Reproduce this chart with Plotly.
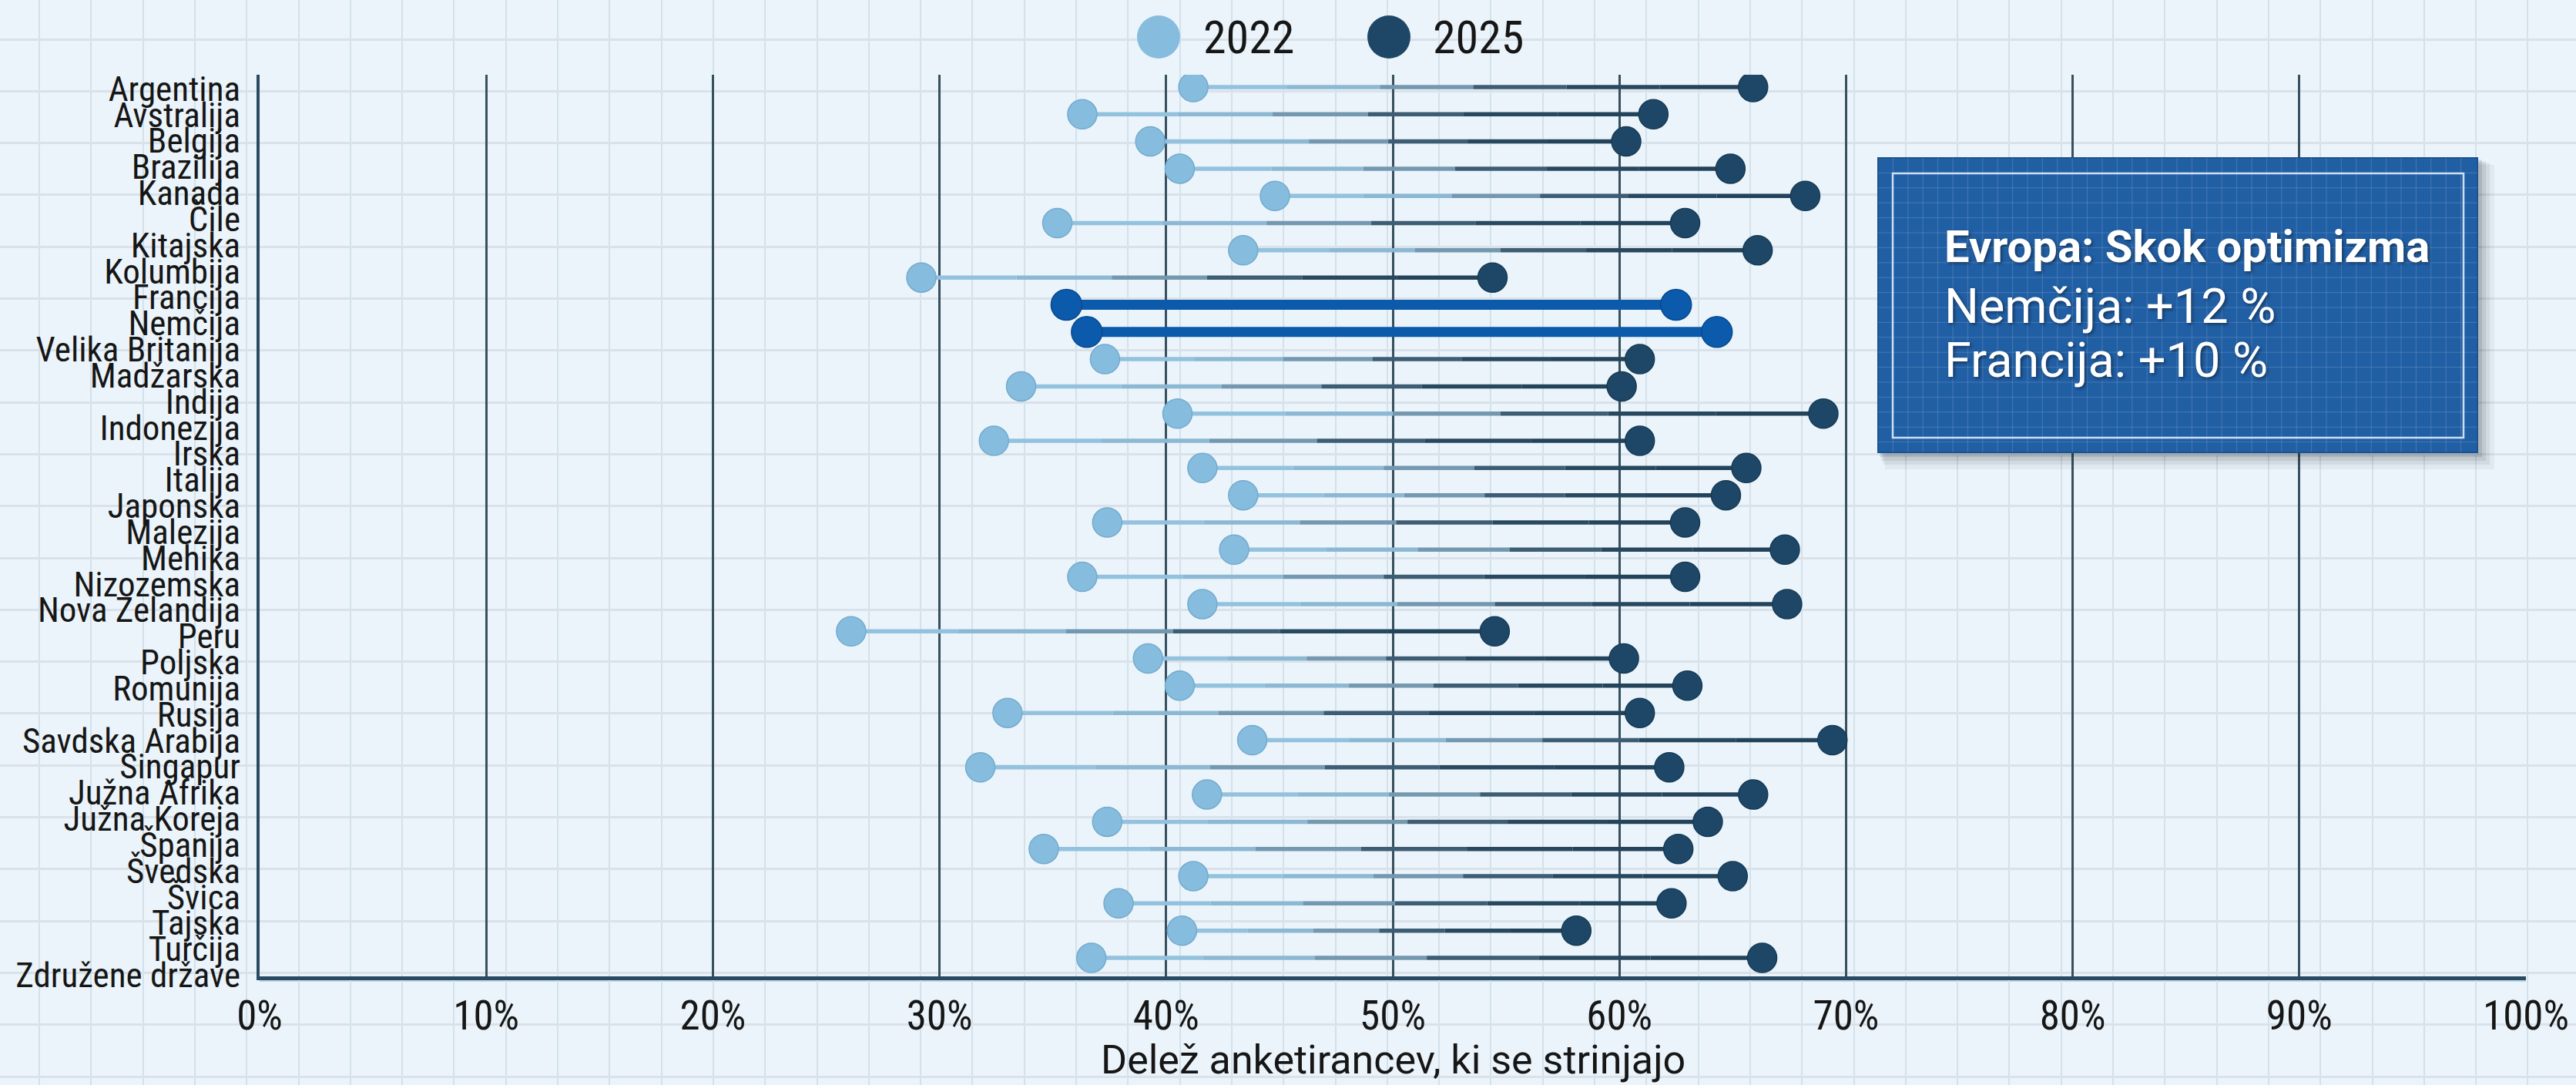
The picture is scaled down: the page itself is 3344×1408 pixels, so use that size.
import plotly.graph_objects as go

W, H = 3344, 1408

# ---------------- data ----------------
labels = ["Argentina", "Avstralija", "Belgija", "Brazilija", "Kanada", "Čile", "Kitajska",
          "Kolumbija", "Francija", "Nemčija", "Velika Britanija", "Madžarska", "Indija",
          "Indonezija", "Irska", "Italija", "Japonska", "Malezija", "Mehika", "Nizozemska",
          "Nova Zelandija", "Peru", "Poljska", "Romunija", "Rusija", "Savdska Arabija",
          "Singapur", "Južna Afrika", "Južna Koreja", "Španija", "Švedska", "Švica",
          "Tajska", "Turčija", "Združene države"]

countries = ["Argentina", "Avstralija", "Belgija", "Brazilija", "Kanada", "Čile", "Kitajska",
             "Kolumbija", "Francija", "Nemčija", "Velika Britanija", "Madžarska", "Indija",
             "Indonezija", "Italija", "Japonska", "Malezija", "Mehika", "Nizozemska",
             "Nova Zelandija", "Peru", "Poljska", "Romunija", "Rusija", "Savdska Arabija",
             "Singapur", "Južna Afrika", "Južna Koreja", "Španija", "Švedska", "Švica",
             "Tajska", "Turčija"]

v2022 = [41.2, 36.3, 39.3, 40.6, 44.8, 35.2, 43.4, 29.2, 35.6, 36.5, 37.3, 33.6, 40.5,
         32.4, 41.6, 43.4, 37.4, 43.0, 36.3, 41.6, 26.1, 39.2, 40.6, 33.0, 43.8, 31.8,
         41.8, 37.4, 34.6, 41.2, 37.9, 40.7, 36.7]
v2025 = [65.9, 61.5, 60.3, 64.9, 68.2, 62.9, 66.1, 54.4, 62.5, 64.3, 60.9, 60.1, 69.0,
         60.9, 65.6, 64.7, 62.9, 67.3, 62.9, 67.4, 54.5, 60.2, 63.0, 60.9, 69.4, 62.2,
         65.9, 63.9, 62.6, 65.0, 62.3, 58.1, 66.3]

highlight = ["Francija", "Nemčija"]
series_names = ["2022", "2025"]
x_tick_values = list(range(0, 101, 10))
x_tick_text = [f"{v}%" for v in x_tick_values]
x_title = "Delež anketirancev, ki se strinjajo"
box_title = "Evropa: Skok optimizma"
box_lines = ["Nemčija: +12 %", "Francija: +10 %"]

# ---------------- styles ----------------
BG = "#ebf4fa"
LIGHT = "#86bddf"
DARK = "#1e4767"
HL = "#0b5aab"
TXT = "#161616"
NARROW = "Roboto Condensed, Archivo Narrow, sans-serif"
SANS = "Roboto, Liberation Sans, sans-serif"
GRID = 67.3
GRID0 = 51.0

fig = go.Figure()

normal_idx = [i for i, c in enumerate(countries) if c not in highlight]
hl_idx = [i for i, c in enumerate(countries) if c in highlight]

# connector lines, drawn in pieces to fake the light-to-dark gradient
piece_colors = ["#93c2de", "#8cb8d3", "#7398b0", "#3d5d74", "#28485f", "#23435b"]
n = len(piece_colors)
for k, col in enumerate(piece_colors):
    xs, ys = [], []
    for i in normal_idx:
        a, b = v2022[i], v2025[i]
        xs += [a + (b - a) * k / n, a + (b - a) * (k + 1) / n, None]
        ys += [countries[i], countries[i], None]
    fig.add_trace(go.Scatter(x=xs, y=ys, mode="lines", xaxis="x2", yaxis="y2",
                             line=dict(color=col, width=5.5), hoverinfo="skip",
                             showlegend=False))

for i in hl_idx:
    fig.add_trace(go.Scatter(x=[v2022[i], v2025[i]], y=[countries[i], countries[i]],
                             mode="lines", xaxis="x2", yaxis="y2",
                             line=dict(color=HL, width=13), hoverinfo="skip",
                             showlegend=False))

fig.add_trace(go.Scatter(x=[v2022[i] for i in normal_idx], y=[countries[i] for i in normal_idx],
                         mode="markers", name=series_names[0], xaxis="x2", yaxis="y2",
                         marker=dict(size=38, color=LIGHT, line=dict(width=1.5, color="#74aacd")),
                         showlegend=False))
fig.add_trace(go.Scatter(x=[v2025[i] for i in normal_idx], y=[countries[i] for i in normal_idx],
                         mode="markers", name=series_names[1], xaxis="x2", yaxis="y2",
                         marker=dict(size=38, color=DARK, line=dict(width=1.5, color="#163a55")),
                         showlegend=False))
fig.add_trace(go.Scatter(x=[v2022[i] for i in hl_idx] + [v2025[i] for i in hl_idx],
                         y=[countries[i] for i in hl_idx] * 2,
                         mode="markers", xaxis="x2", yaxis="y2",
                         marker=dict(size=40, color=HL, line=dict(width=1.5, color="#084a90")),
                         showlegend=False))

# invisible trace that attaches the label axis
fig.add_trace(go.Scatter(x=[None] * len(labels), y=list(range(len(labels))), mode="markers",
                         xaxis="x2", yaxis="y3", hoverinfo="skip", showlegend=False))

# ---------------- layout ----------------
x0_px, x100_px = 337, 3279
top_px, bot_px = 97, 1267

shapes = []
ann = []

# custom legend
leg_items = [(1504, 1560, LIGHT), (1803, 1858, DARK)]
for (cx, tx, col), name in zip(leg_items, series_names):
    shapes.append(dict(type="circle", xref="x", yref="y", x0=cx - 28, x1=cx + 28, y0=20, y1=76,
                       fillcolor=col, line=dict(width=0), layer="above"))
    ann.append(dict(xref="x", yref="y", x=tx, y=48, text=name, showarrow=False,
                    xanchor="left", yanchor="middle",
                    font=dict(family=NARROW, size=60, color=TXT)))

# soft glow under the x axis line
shapes.append(dict(type="line", xref="x", yref="y", x0=x0_px, x1=x100_px, y0=bot_px + 5,
                   y1=bot_px + 5, line=dict(color="rgba(120,175,215,0.45)", width=4),
                   layer="below"))

# blueprint note box with shadow
bx0, bx1, by0, by1 = 2438, 3216, 205, 587
for off, op in [(22, 0.05), (16, 0.07), (11, 0.09), (6, 0.12)]:
    shapes.append(dict(type="rect", xref="x", yref="y", x0=bx0 + off * 0.4, x1=bx1 + off,
                       y0=by0 + off * 0.4, y1=by1 + off, fillcolor=f"rgba(20,30,40,{op})",
                       line=dict(width=0), layer="above"))
shapes.append(dict(type="rect", xref="x", yref="y", x0=bx0, x1=bx1, y0=by0, y1=by1,
                   fillcolor="#215fa5", line=dict(color="#1a528f", width=2), layer="above"))
step = 19.4
gx = bx0 + step
while gx < bx1 - 2:
    shapes.append(dict(type="line", xref="x", yref="y", x0=gx, x1=gx, y0=by0, y1=by1,
                       line=dict(color="rgba(255,255,255,0.16)", width=1), layer="above"))
    gx += step
gy = by0 + step
while gy < by1 - 2:
    shapes.append(dict(type="line", xref="x", yref="y", x0=bx0, x1=bx1, y0=gy, y1=gy,
                       line=dict(color="rgba(255,255,255,0.16)", width=1), layer="above"))
    gy += step
shapes.append(dict(type="rect", xref="x", yref="y", x0=bx0 + 19, x1=bx1 - 18, y0=by0 + 20,
                   y1=by1 - 19, fillcolor="rgba(0,0,0,0)",
                   line=dict(color="rgba(235,245,255,0.85)", width=2.5), layer="above"))

shadow = "2px 2px 4px rgba(0,0,0,0.45)"
ann.append(dict(xref="x", yref="y", x=2522, y=320, text=f"<b>{box_title}</b>", showarrow=False,
                xanchor="left", yanchor="middle",
                font=dict(family=SANS, size=58, color="white", shadow=shadow)))
for txt, yy in zip(box_lines, [397, 467]):
    ann.append(dict(xref="x", yref="y", x=2522, y=yy, text=txt, showarrow=False,
                    xanchor="left", yanchor="middle",
                    font=dict(family=SANS, size=63, color="white", shadow=shadow)))

# x axis title
ann.append(dict(xref="x", yref="y", x=(x0_px + x100_px) / 2, y=1375, text=x_title,
                showarrow=False, xanchor="center", yanchor="middle",
                font=dict(family=SANS, size=52, color=TXT)))

n_rows = len(countries)
n_lab = len(labels)

fig.update_layout(
    width=W, height=H, margin=dict(l=0, r=0, t=0, b=0),
    paper_bgcolor=BG, plot_bgcolor="rgba(0,0,0,0)",
    showlegend=False,
    shapes=shapes, annotations=ann,
    xaxis=dict(domain=[0, 1], range=[0, W], tick0=GRID0, dtick=GRID, showgrid=True,
               gridcolor="#d3e1eb", gridwidth=2, showticklabels=False, zeroline=False,
               showline=False, anchor="y", fixedrange=True),
    yaxis=dict(domain=[0, 1], range=[H, 0], tick0=GRID0, dtick=GRID, showgrid=True,
               gridcolor="#d9e2ea", gridwidth=2.5, showticklabels=False, zeroline=False,
               showline=False, anchor="x", fixedrange=True),
    xaxis2=dict(domain=[x0_px / W, x100_px / W], range=[0, 100], tickmode="array",
                tickvals=x_tick_values, ticktext=x_tick_text,
                showgrid=True, gridcolor="#37505f", gridwidth=2.5,
                zeroline=False, showline=True, linecolor="#2a4a62", linewidth=5,
                ticks="", tickfont=dict(family=NARROW, size=53, color=TXT), anchor="y2",
                automargin=False),
    yaxis2=dict(domain=[1 - bot_px / H, 1 - top_px / H], type="category",
                categoryorder="array", categoryarray=countries,
                range=[n_rows - 1 + 0.68, -0.453], showticklabels=False, showgrid=False,
                zeroline=False, showline=True, linecolor="#2a4a62", linewidth=4,
                anchor="x2", automargin=False),
    yaxis3=dict(overlaying="y2", anchor="x2", side="left",
                range=[n_lab - 1 + 0.05, -0.53], tickmode="array",
                tickvals=list(range(n_lab)), ticktext=labels, showgrid=False,
                zeroline=False, showline=False, ticks="outside", ticklen=15,
                tickcolor="rgba(0,0,0,0)", tickfont=dict(family=NARROW, size=45, color=TXT),
                automargin=False),
)

fig.write_html("out.html", config={"displayModeBar": False},
               post_script="document.body.style.margin='0';")
